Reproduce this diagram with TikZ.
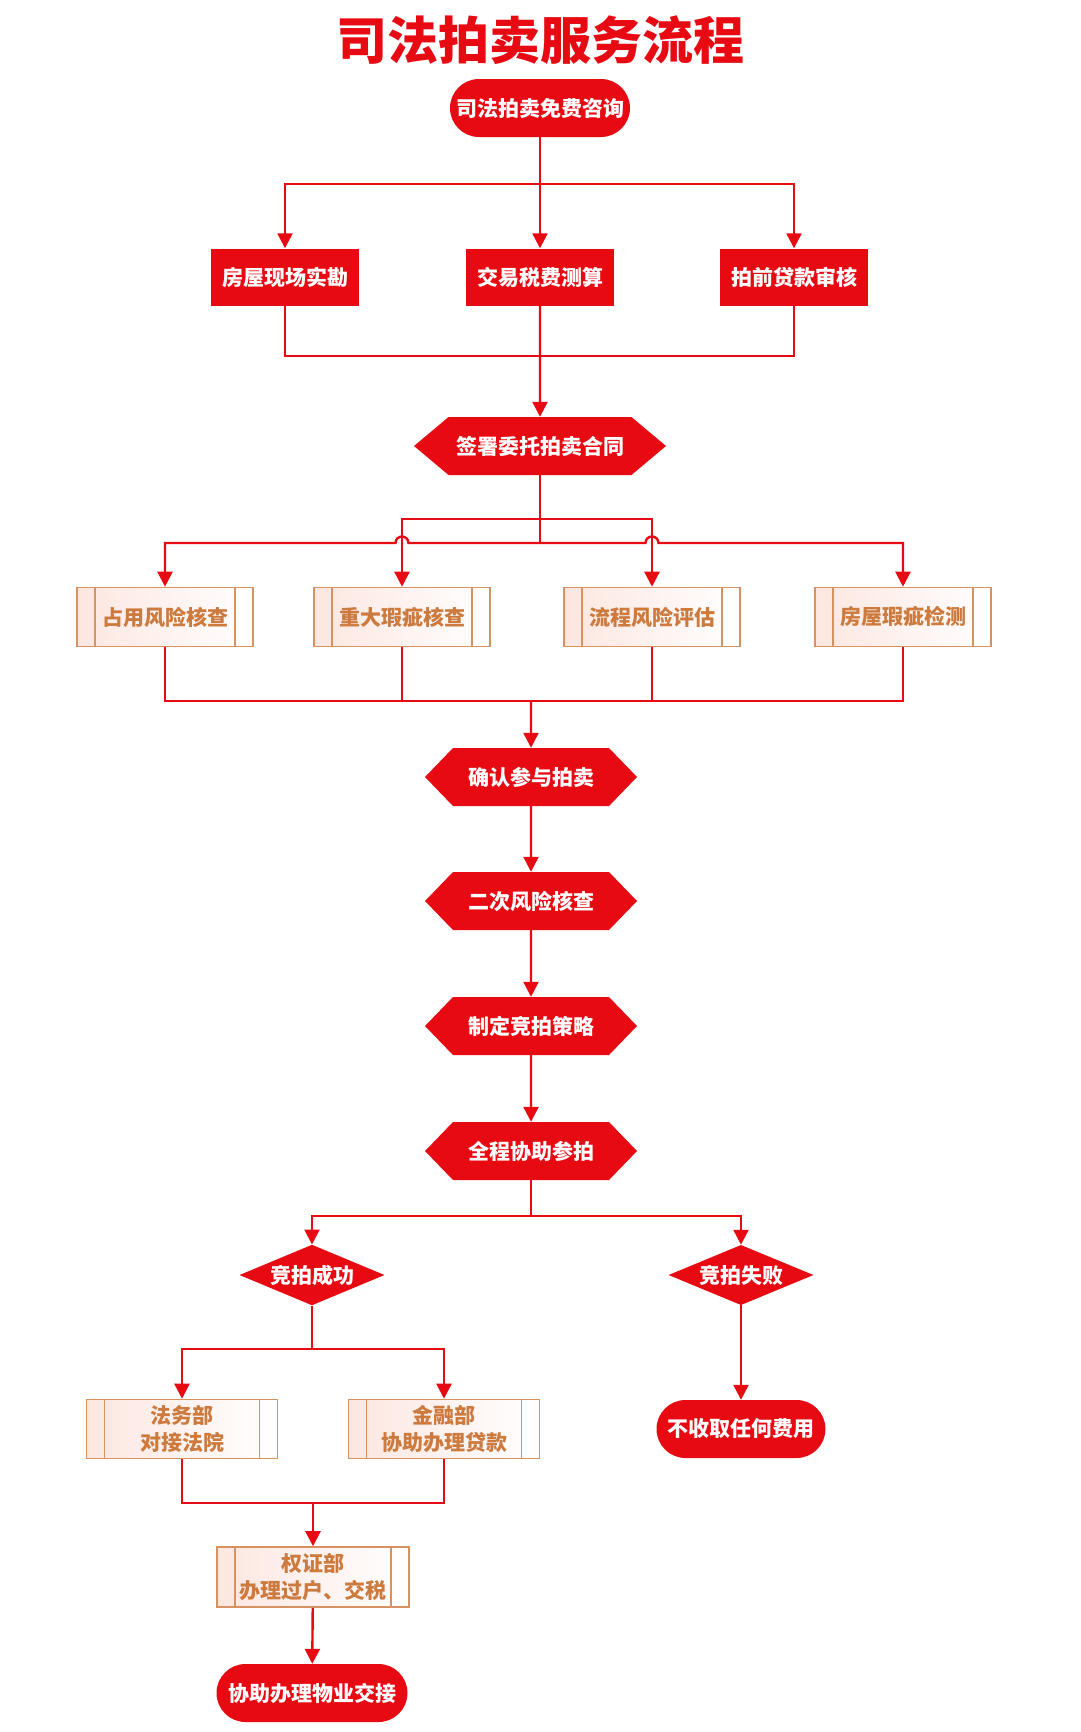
\documentclass[tikz,border=0pt]{standalone}
\usepackage{fontspec}
\setmainfont{Noto Sans CJK SC}
\usepackage{tikz}
\usetikzlibrary{arrows.meta, shapes.geometric, shapes.symbols, positioning}
\definecolor{flowred}{RGB}{232,10,18}
\definecolor{boxline}{RGB}{214,146,96}
\definecolor{boxtext}{RGB}{204,122,62}
\definecolor{boxpink}{RGB}{252,230,224}

\begin{document}
\begin{tikzpicture}[x=1pt, y=-1pt,
  every node/.style={font=\fontsize{21}{27}\selectfont\bfseries},
  pill/.style={fill=flowred, text=white, rounded corners=29pt,
    minimum height=58pt, inner sep=0pt},
  redbox/.style={fill=flowred, text=white, minimum width=148pt,
    minimum height=57pt, inner sep=0pt},
  hexa/.style={signal, signal to=east and west, signal pointer angle=92,
    fill=flowred, text=white, minimum width=212pt, minimum height=58pt,
    inner sep=0pt},
  choice/.style={diamond, aspect=2.1, fill=flowred, text=white,
    minimum width=145pt, minimum height=58pt, inner sep=0pt},
  procbox/.style={draw=boxline, line width=1.6pt, left color=boxpink,
    right color=white, text=boxtext, minimum width=176pt,
    minimum height=59pt, align=center, inner sep=0pt,
    path picture={\draw[boxline, line width=1.4pt]
      ([xshift=18pt]path picture bounding box.north west) --
      ([xshift=18pt]path picture bounding box.south west)
      ([xshift=-18pt]path picture bounding box.north east) --
      ([xshift=-18pt]path picture bounding box.south east);}},
  conn/.style={flowred, line width=2.4pt},
  connarrow/.style={conn, -{Triangle[width=15pt, length=15pt]}}]

  \fill[white] (0,0) rectangle (1080,1732);
  \useasboundingbox (0,0) rectangle (1080,1732);

  % Title
  \node[font=\fontsize{51}{56}\selectfont\bfseries, text=flowred] (heading)
    at (540,40) {司法拍卖服务流程};
  \node[pill, minimum width=180pt] (consult) at (540,108) {司法拍卖免费咨询};

  % Row 1
  \node[redbox] (survey) at (285,277) {房屋现场实勘};
  \node[redbox] (tax) at (540,277) {交易税费测算};
  \node[redbox] (loancheck) at (794,277) {拍前贷款审核};

  \node[hexa, minimum width=252pt, signal pointer angle=80] (sign)
    at (540,446) {签署委托拍卖合同};

  % Row 2
  \node[procbox] (occupy) at (165,617) {占用风险核查};
  \node[procbox] (defect) at (402,617) {重大瑕疵核查};
  \node[procbox] (process) at (652,617) {流程风险评估};
  \node[procbox] (inspect) at (903,617) {房屋瑕疵检测};

  % Main column
  \node[hexa] (confirm) at (531,777) {确认参与拍卖};
  \node[hexa] (recheck) at (531,901) {二次风险核查};
  \node[hexa] (strategy) at (531,1026) {制定竞拍策略};
  \node[hexa] (assist) at (531,1151) {全程协助参拍};

  % Outcome
  \node[choice] (win) at (312,1275) {竞拍成功};
  \node[choice] (lose) at (741,1275) {竞拍失败};

  \node[procbox, minimum width=191pt] (legal) at (182,1429)
    {法务部\\对接法院};
  \node[procbox, minimum width=191pt] (finance) at (444,1429)
    {金融部\\协助办理贷款};
  \node[pill, minimum width=169pt] (nofee) at (741,1429) {不收取任何费用};

  \node[procbox, minimum width=192pt, minimum height=60pt] (transfer)
    at (313,1577) {权证部\\办理过户、交税};
  \node[pill, minimum width=191pt] (handover) at (312,1693)
    {协助办理物业交接};

  % Junctions
  \coordinate (split1) at (540,184);
  \coordinate (merge1) at (540,356);
  \coordinate (upper) at (540,519);
  \coordinate (lower) at (540,543);
  \coordinate (merge2) at (531,701);
  \coordinate (split3) at (531,1216);
  \coordinate (split4) at (312,1349);
  \coordinate (merge4) at (313,1503);

  \draw[conn] (consult) -- (split1);
  \draw[connarrow] (split1) -| (survey);
  \draw[connarrow] (split1) -- (tax);
  \draw[connarrow] (split1) -| (loancheck);
  \draw[conn] (survey) |- (merge1);
  \draw[conn] (loancheck) |- (merge1);
  \draw[connarrow] (tax) -- (sign);

  \draw[conn] (sign) -- (lower);
  \draw[connarrow] (upper) -| (defect);
  \draw[connarrow] (upper) -| (process);
  \draw[connarrow] (lower) -- ([xshift=6.5pt]defect.north |- lower)
    arc[start angle=0, end angle=180, radius=6.5pt] -| (occupy);
  \draw[connarrow] (lower) -- ([xshift=-6.5pt]process.north |- lower)
    arc[start angle=180, end angle=0, radius=6.5pt] -| (inspect);

  \draw[conn] (occupy) |- (merge2);
  \draw[conn] (inspect) |- (merge2);
  \draw[conn] (defect) -- (defect |- merge2);
  \draw[conn] (process) -- (process |- merge2);
  \draw[connarrow] (merge2) -- (confirm);
  \foreach \a/\b in {confirm/recheck, recheck/strategy, strategy/assist}
    \draw[connarrow] (\a) -- (\b);

  \draw[conn] (assist) -- (split3);
  \draw[connarrow] (split3) -| (win);
  \draw[connarrow] (split3) -| (lose);
  \draw[conn] (win) -- (split4);
  \draw[connarrow] (split4) -| (legal);
  \draw[connarrow] (split4) -| (finance);
  \draw[conn] (legal) |- (merge4);
  \draw[conn] (finance) |- (merge4);
  \draw[connarrow] (merge4) -- (transfer);
  \draw[connarrow] (transfer) -- (handover);
  \draw[connarrow] (lose) -- (nofee);

\end{tikzpicture}
\end{document}
